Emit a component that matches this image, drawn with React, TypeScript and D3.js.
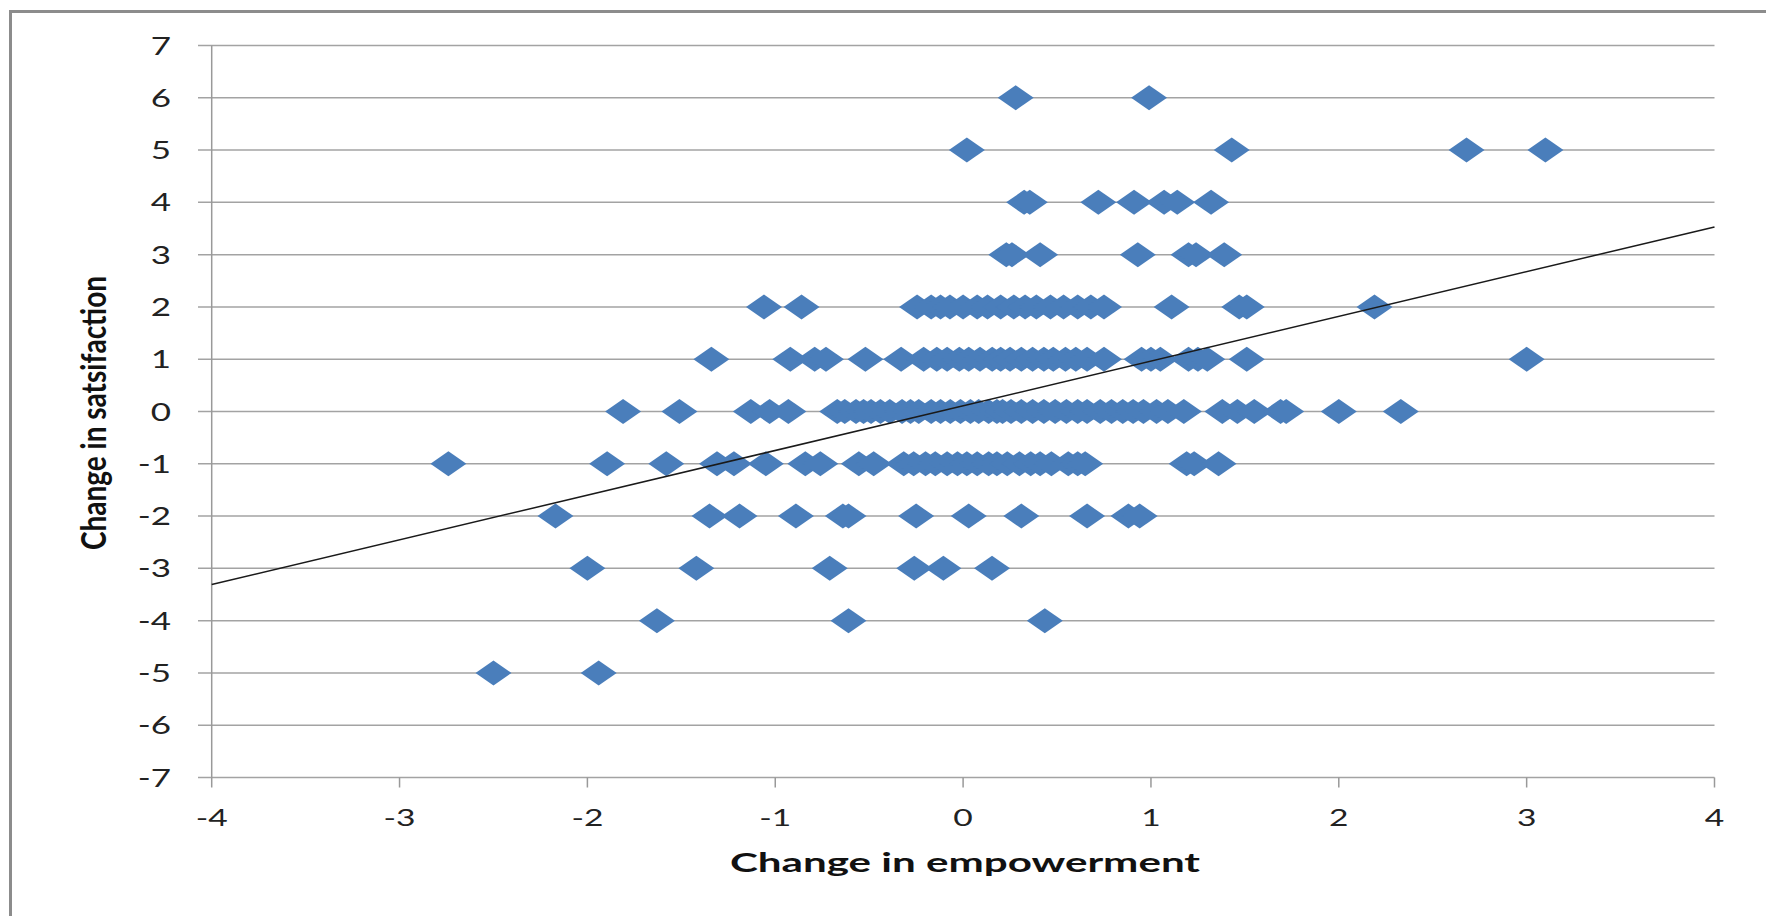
import React from 'react'
import * as d3 from 'd3'

// change in empowerment, grouped by the change in satisfaction they were plotted at
const empSat6 = [0.28, 0.99]
const empSat5 = [0.02, 1.43, 2.68, 3.1]
const empSat4 = [0.325, 0.355, 0.72, 0.91, 1.07, 1.14, 1.32]
const empSat3 = [0.23, 0.26, 0.41, 0.93, 1.2, 1.24, 1.39]
const empSat2 = [-1.06, -0.86, -0.245, -0.17, -0.12, -0.07, 0.0, 0.075, 0.13, 0.2, 0.27, 0.33, 0.39, 0.465,
  0.535, 0.61, 0.68, 0.75, 1.11, 1.47, 1.51, 2.19]
const empSat1 = [-1.34, -0.92, -0.79, -0.73, -0.52, -0.33, -0.21, -0.14, -0.085, -0.02, 0.03, 0.09, 0.155,
  0.2, 0.25, 0.31, 0.37, 0.43, 0.48, 0.545, 0.6, 0.66, 0.75, 0.95, 1.0, 1.05, 1.2, 1.25, 1.3, 1.51, 3.0]
const empSat0 = [-1.81, -1.51, -1.13, -1.03, -0.93, -0.67, -0.63, -0.57, -0.53, -0.49, -0.44, -0.39, -0.325,
  -0.28, -0.236, -0.17, -0.12, -0.068, -0.014, 0.039, 0.083, 0.136, 0.18, 0.21, 0.255, 0.31, 0.37, 0.43,
  0.49, 0.55, 0.61, 0.66, 0.73, 0.79, 0.85, 0.905, 0.96, 1.03, 1.09, 1.175, 1.38, 1.46, 1.55, 1.69, 1.72,
  2.0, 2.33]
const empSatM1 = [-2.74, -1.895, -1.58, -1.31, -1.22, -1.05, -0.84, -0.76, -0.555, -0.476, -0.316, -0.263,
  -0.2, -0.148, -0.085, -0.03, 0.02, 0.075, 0.136, 0.18, 0.235, 0.3, 0.36, 0.41, 0.47, 0.56, 0.61, 0.65,
  1.19, 1.23, 1.36]
const empSatM2 = [-2.17, -1.35, -1.19, -0.89, -0.64, -0.61, -0.25, 0.03, 0.31, 0.66, 0.88, 0.94]
const empSatM3 = [-2.0, -1.42, -0.71, -0.26, -0.105, 0.154]
const empSatM4 = [-1.63, -0.61, 0.435]
const empSatM5 = [-2.5, -1.94]

const satLevels = [6, 5, 4, 3, 2, 1, 0, -1, -2, -3, -4, -5]
const empRows = [empSat6, empSat5, empSat4, empSat3, empSat2, empSat1, empSat0, empSatM1, empSatM2,
  empSatM3, empSatM4, empSatM5]

// linear trend line
const trendSlope = 0.855
const trendIntercept = 0.11

const xTicks = [-4, -3, -2, -1, 0, 1, 2, 3, 4]
const yTicks = [7, 6, 5, 4, 3, 2, 1, 0, -1, -2, -3, -4, -5, -6, -7]

const xTitle = 'Change in empowerment'
const yTitle = 'Change in satsifaction'

const width = 1766
const height = 916
const stretch = 1.4
const font = 'Lato, "Open Sans", sans-serif'

const App = () => {
  const x = d3.scaleLinear().domain([-4, 4]).range([211.7, 1714.5])
  const y = d3.scaleLinear().domain([-7, 7]).range([777.5, 45.5])

  const points = satLevels.flatMap((s, i) => empRows[i].map((e) => ({ e, s })))

  const diamond = (cx: number, cy: number) =>
    `M${cx - 18},${cy}L${cx},${cy - 12.5}L${cx + 18},${cy}L${cx},${cy + 12.5}Z`

  const trend = d3.line<number>()
    .x((d) => x(d))
    .y((d) => y(trendSlope * d + trendIntercept))

  return (
    <svg width={width} height={height} style={{ position: 'absolute', left: 0, top: 0, background: '#fff' }}>
      <rect x={10.5} y={11.5} width={2000} height={2000} fill="#fff" stroke="#8c8c8c" strokeWidth={3} />

      {/* gridlines + y ticks */}
      {yTicks.map((t) => (
        <line key={'g' + t} x1={198} x2={x(4)} y1={y(t)} y2={y(t)} stroke="#a3a3a3" strokeWidth={1.5} />
      ))}
      {/* y axis */}
      <line x1={x(-4)} x2={x(-4)} y1={y(7)} y2={y(-7)} stroke="#999" strokeWidth={1.5} />
      {/* x ticks */}
      {xTicks.map((t) => (
        <line key={'xt' + t} x1={x(t)} x2={x(t)} y1={y(-7)} y2={y(-7) + 10} stroke="#999" strokeWidth={1.5} />
      ))}

      {yTicks.map((t) => (
        <text key={'yl' + t} transform={`translate(171,${y(t) + 9}) scale(${stretch},1)`}
          textAnchor="end" fontFamily={font} fontSize={25} fill="#222">{t}</text>
      ))}
      {xTicks.map((t) => (
        <text key={'xl' + t} transform={`translate(${x(t)},${826}) scale(${stretch},1)`}
          textAnchor="middle" fontFamily={font} fontSize={24} fill="#222">{t}</text>
      ))}

      {points.map((p, i) => (
        <path key={i} d={diamond(x(p.e), y(p.s))} fill="#4a7ebb" />
      ))}

      <path d={trend([-4, 4]) || ''} fill="none" stroke="#1a1a1a" strokeWidth={1.5} />

      <text x={965} y={872} textAnchor="middle" fontFamily={font} fontSize={26} fontWeight="bold"
        textLength={470} lengthAdjust="spacingAndGlyphs" fill="#111">{xTitle}</text>
      <g transform={`translate(106,413) scale(${stretch},1) rotate(-90)`}>
        <text x={0} y={0} textAnchor="middle" fontFamily={font} fontSize={25} fontWeight="bold"
          textLength={274} lengthAdjust="spacingAndGlyphs" fill="#111">{yTitle}</text>
      </g>
    </svg>
  )
}

export default App
